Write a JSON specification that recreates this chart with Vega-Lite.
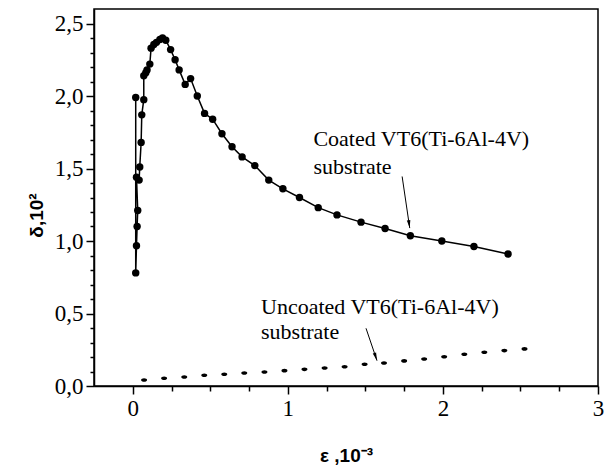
{
  "$schema": "https://vega.github.io/schema/vega-lite/v6.json",
  "width": 504,
  "height": 377,
  "autosize": {"type": "none"},
  "padding": {"left": 94, "top": 9, "right": 13, "bottom": 84},
  "background": "white",
  "config": {
    "view": {"stroke": "black", "strokeWidth": 1.5},
    "axis": {"labelFont": "Liberation Serif", "labelFontSize": 23, "labelColor": "black"}
  },
  "resolve": {"axis": {"x": "independent", "y": "independent"}},
  "datasets": {
    "coated": [
      {"x": 0.019, "y": 1.99, "o": 1},
      {"x": 0.019, "y": 0.78, "o": 2},
      {"x": 0.024, "y": 0.967, "o": 3},
      {"x": 0.028, "y": 1.10, "o": 4},
      {"x": 0.032, "y": 1.21, "o": 5},
      {"x": 0.024, "y": 1.44, "o": 6},
      {"x": 0.041, "y": 1.42, "o": 7},
      {"x": 0.045, "y": 1.51, "o": 8},
      {"x": 0.054, "y": 1.68, "o": 9},
      {"x": 0.058, "y": 1.87, "o": 10},
      {"x": 0.071, "y": 1.975, "o": 11},
      {"x": 0.071, "y": 2.14, "o": 12},
      {"x": 0.084, "y": 2.16, "o": 13},
      {"x": 0.092, "y": 2.18, "o": 14},
      {"x": 0.11, "y": 2.22, "o": 15},
      {"x": 0.118, "y": 2.33, "o": 16},
      {"x": 0.136, "y": 2.355, "o": 17},
      {"x": 0.153, "y": 2.37, "o": 18},
      {"x": 0.175, "y": 2.39, "o": 19},
      {"x": 0.192, "y": 2.40, "o": 20},
      {"x": 0.213, "y": 2.385, "o": 21},
      {"x": 0.244, "y": 2.32, "o": 22},
      {"x": 0.273, "y": 2.25, "o": 23},
      {"x": 0.299, "y": 2.18, "o": 24},
      {"x": 0.338, "y": 2.08, "o": 25},
      {"x": 0.373, "y": 2.12, "o": 26},
      {"x": 0.416, "y": 2.00, "o": 27},
      {"x": 0.463, "y": 1.88, "o": 28},
      {"x": 0.515, "y": 1.84, "o": 29},
      {"x": 0.575, "y": 1.74, "o": 30},
      {"x": 0.64, "y": 1.65, "o": 31},
      {"x": 0.705, "y": 1.58, "o": 32},
      {"x": 0.787, "y": 1.52, "o": 33},
      {"x": 0.877, "y": 1.42, "o": 34},
      {"x": 0.968, "y": 1.36, "o": 35},
      {"x": 1.075, "y": 1.30, "o": 36},
      {"x": 1.196, "y": 1.23, "o": 37},
      {"x": 1.317, "y": 1.18, "o": 38},
      {"x": 1.472, "y": 1.13, "o": 39},
      {"x": 1.627, "y": 1.086, "o": 40},
      {"x": 1.79, "y": 1.036, "o": 41},
      {"x": 1.993, "y": 1.00, "o": 42},
      {"x": 2.20, "y": 0.962, "o": 43},
      {"x": 2.42, "y": 0.91, "o": 44}
    ],
    "uncoated": [
      {"x": 0.073, "y": 0.041},
      {"x": 0.202, "y": 0.053},
      {"x": 0.332, "y": 0.062},
      {"x": 0.461, "y": 0.074},
      {"x": 0.59, "y": 0.081},
      {"x": 0.719, "y": 0.090},
      {"x": 0.849, "y": 0.097},
      {"x": 0.978, "y": 0.106},
      {"x": 1.107, "y": 0.115},
      {"x": 1.237, "y": 0.124},
      {"x": 1.366, "y": 0.133},
      {"x": 1.495, "y": 0.150},
      {"x": 1.62, "y": 0.159},
      {"x": 1.75, "y": 0.173},
      {"x": 1.879, "y": 0.186},
      {"x": 2.008, "y": 0.202},
      {"x": 2.138, "y": 0.219},
      {"x": 2.267, "y": 0.233},
      {"x": 2.396, "y": 0.244},
      {"x": 2.526, "y": 0.256}
    ],
    "labels": [
      {"x": 1.165, "y": 1.653, "text": "Coated VT6(Ti-6Al-4V)"},
      {"x": 1.165, "y": 1.464, "text": "substrate"},
      {"x": 0.827, "y": 0.50, "text": "Uncoated VT6(Ti-6Al-4V)"},
      {"x": 0.827, "y": 0.3225, "text": "substrate"}
    ],
    "arrows": [
      {"x": 1.786, "y": 1.089, "xs": 1.737, "ys": 1.445, "angle": -8.4},
      {"x": 1.575, "y": 0.175, "xs": 1.504, "ys": 0.398, "angle": -18.8}
    ]
  },
  "layer": [
    {
      "data": {"name": "coated"},
      "mark": {"type": "line", "color": "black", "strokeWidth": 1.5},
      "encoding": {
        "x": {
          "field": "x",
          "type": "quantitative",
          "scale": {"domain": [-0.25, 3], "nice": false, "zero": false},
          "axis": {
            "orient": "bottom",
            "values": [0, 1, 2, 3],
            "format": "d",
            "tickSize": 8,
            "grid": false,
            "domainColor": "black",
            "domainWidth": 1.5,
            "tickColor": "black",
            "tickWidth": 1.5,
            "labelFont": "Liberation Serif",
            "labelFontSize": 23,
            "labelColor": "black",
            "labelOverlap": false,
            "labelFlush": false,
            "labelPadding": 3,
            "title": "ε ,10⁻³",
            "titleFont": "Liberation Sans",
            "titleFontWeight": "bold",
            "titleFontSize": 19,
            "titleColor": "black",
            "titlePadding": 26
          }
        },
        "y": {
          "field": "y",
          "type": "quantitative",
          "scale": {"domain": [0, 2.6], "nice": false, "zero": false},
          "axis": {
            "orient": "left",
            "values": [0, 0.5, 1, 1.5, 2, 2.5],
            "labelExpr": "replace(format(datum.value, '.1f'), '.', ',')",
            "tickSize": 8,
            "grid": false,
            "domainColor": "black",
            "domainWidth": 1.5,
            "tickColor": "black",
            "tickWidth": 1.5,
            "labelFont": "Liberation Serif",
            "labelFontSize": 23,
            "labelColor": "black",
            "labelOverlap": false,
            "labelFlush": false,
            "labelPadding": 3,
            "title": "δ,10²",
            "titleFont": "Liberation Sans",
            "titleFontWeight": "bold",
            "titleFontSize": 19,
            "titleColor": "black",
            "titlePadding": 8,
            "titleY": 206
          }
        },
        "order": {"field": "o", "type": "quantitative"}
      }
    },
    {
      "data": {"name": "coated"},
      "mark": {"type": "point", "shape": "circle", "filled": true, "color": "black", "opacity": 1, "size": 55},
      "encoding": {
        "x": {
          "field": "x",
          "type": "quantitative",
          "axis": {
            "orient": "bottom",
            "values": [0.25, 0.5, 0.75, 1.25, 1.5, 1.75, 2.25, 2.5, 2.75],
            "labels": false,
            "domain": false,
            "grid": false,
            "tickSize": 5,
            "tickColor": "black",
            "tickWidth": 1.5,
            "title": null
          }
        },
        "y": {
          "field": "y",
          "type": "quantitative",
          "axis": {
            "orient": "left",
            "values": [0.1, 0.2, 0.3, 0.4, 0.6, 0.7, 0.8, 0.9, 1.1, 1.2, 1.3, 1.4, 1.6, 1.7, 1.8, 1.9, 2.1, 2.2, 2.3, 2.4],
            "labels": false,
            "domain": false,
            "grid": false,
            "tickSize": 4,
            "tickColor": "black",
            "tickWidth": 1.5,
            "title": null
          }
        }
      }
    },
    {
      "data": {"name": "uncoated"},
      "mark": {"type": "point", "shape": "M-1,0A1,0.6 0 1,0 1,0A1,0.6 0 1,0 -1,0Z", "filled": true, "color": "black", "opacity": 1, "size": 36},
      "encoding": {
        "x": {"field": "x", "type": "quantitative", "axis": null},
        "y": {"field": "y", "type": "quantitative", "axis": null}
      }
    },
    {
      "data": {"name": "labels"},
      "mark": {"type": "text", "align": "left", "baseline": "alphabetic", "font": "Liberation Serif", "fontSize": 22, "color": "black"},
      "encoding": {
        "x": {"field": "x", "type": "quantitative", "axis": null},
        "y": {"field": "y", "type": "quantitative", "axis": null},
        "text": {"field": "text"}
      }
    },
    {
      "data": {"name": "arrows"},
      "mark": {"type": "rule", "color": "black", "strokeWidth": 1},
      "encoding": {
        "x": {"field": "x", "type": "quantitative", "axis": null},
        "y": {"field": "y", "type": "quantitative", "axis": null},
        "x2": {"field": "xs"},
        "y2": {"field": "ys"}
      }
    },
    {
      "data": {"name": "arrows"},
      "mark": {"type": "point", "shape": "M0,0L-0.35,-1.6L0.35,-1.6Z", "filled": true, "color": "black", "opacity": 1, "size": 100},
      "encoding": {
        "x": {"field": "x", "type": "quantitative", "axis": null},
        "y": {"field": "y", "type": "quantitative", "axis": null},
        "angle": {"field": "angle", "type": "quantitative", "scale": null}
      }
    }
  ]
}
